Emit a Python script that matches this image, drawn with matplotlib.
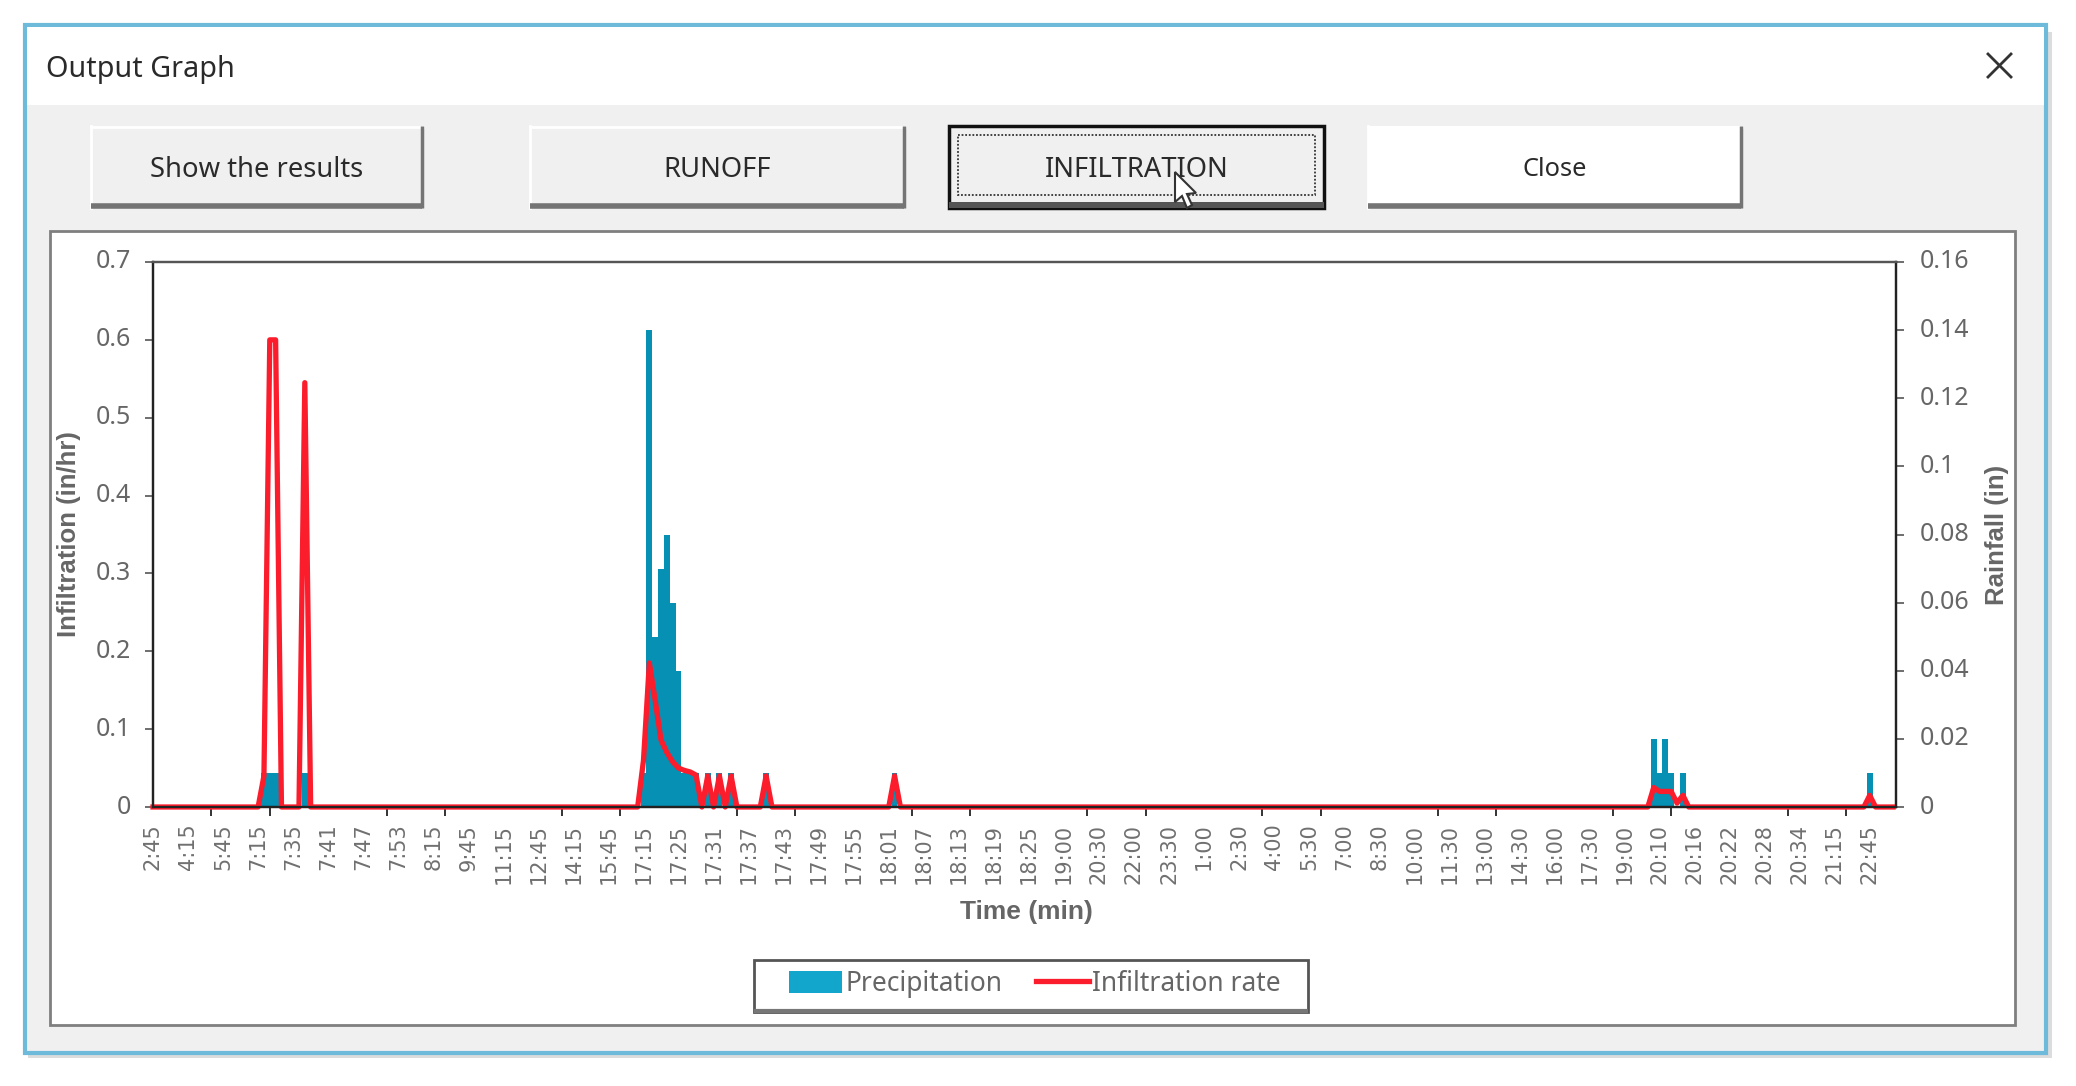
import numpy as np
import matplotlib
matplotlib.use("Agg")
import matplotlib.pyplot as plt
from matplotlib.patches import Rectangle, Polygon
from matplotlib.lines import Line2D
from matplotlib.transforms import ScaledTranslation

plt.rcParams["font.family"] = ["Noto Sans", "DejaVu Sans"]

W, H = 2076, 1086

# one category per time step, a label every 6, a tick mark every 10
n_steps = 299
time_labels = [
    "2:45", "4:15", "5:45", "7:15", "7:35", "7:41", "7:47", "7:53", "8:15", "9:45",
    "11:15", "12:45", "14:15", "15:45", "17:15", "17:25", "17:31", "17:37", "17:43", "17:49",
    "17:55", "18:01", "18:07", "18:13", "18:19", "18:25", "19:00", "20:30", "22:00", "23:30",
    "1:00", "2:30", "4:00", "5:30", "7:00", "8:30", "10:00", "11:30", "13:00", "14:30",
    "16:00", "17:30", "19:00", "20:10", "20:16", "20:22", "20:28", "20:34", "21:15", "22:45",
]

# rainfall (in), only the non zero steps
rain_steps = [19, 20, 21, 26, 84, 85, 86, 87, 88, 89, 90, 91, 92, 93, 95, 97, 99, 105, 127,
              257, 258, 259, 260, 262, 294]
rain_values = [0.01, 0.01, 0.01, 0.01, 0.01, 0.14, 0.05, 0.07, 0.08, 0.06, 0.04, 0.01, 0.01, 0.01,
               0.01, 0.01, 0.01, 0.01, 0.01, 0.02, 0.01, 0.02, 0.01, 0.01, 0.01]

# infiltration rate (in/hr), only the non zero steps
infil_steps = [19, 20, 21, 26, 84, 85, 86, 87, 88, 89, 90, 91, 92, 93, 95, 97, 99, 105, 127,
               257, 258, 259, 260, 261, 262, 294]
infil_values = [0.04, 0.6, 0.6, 0.545, 0.06, 0.185, 0.137, 0.086, 0.07, 0.058, 0.05, 0.047, 0.045, 0.041,
                0.04, 0.04, 0.04, 0.04, 0.04, 0.025, 0.02, 0.02, 0.02, 0.005, 0.015, 0.015]

left_ticks = [0, 0.1, 0.2, 0.3, 0.4, 0.5, 0.6, 0.7]
right_ticks = [0, 0.02, 0.04, 0.06, 0.08, 0.1, 0.12, 0.14, 0.16]
right_labels = ["0", "0.02", "0.04", "0.06", "0.08", "0.1", "0.12", "0.14", "0.16"]

GREY = "#666666"
BODY = "#f0f0f1"
RED = "#fb1c2c"


def add_button(bg, x0, x1, label, face=BODY, size=19.7, focus=False):
    y0, y1 = 126, 208
    if focus:
        bg.add_patch(Rectangle((x0, y0), x1 - x0, y1 - y0, fc=face, ec="#111111", lw=2.5))
        bg.add_patch(Rectangle((x0, y1 - 6), x1 - x0, 6, fc="#555555", ec="none"))
        bg.add_patch(Rectangle((x0 + 9, y0 + 9), x1 - x0 - 18, y1 - y0 - 22, fc="none", ec="#333333",
                               lw=1.3, ls=(0, (1, 1))))
    else:
        bg.add_patch(Rectangle((x0, y0), x1 - x0, y1 - y0, fc=face, ec="none"))
        bg.plot([x0, x1], [y0 + 1, y0 + 1], color="white", lw=2)
        bg.plot([x0, x0], [y0, y1], color="white", lw=2)
        bg.plot([x0, x1 - 1], [y1 - 2, y1 - 2], color="#747474", lw=4, solid_capstyle="butt")
        bg.plot([x1 - 1, x1 - 1], [y0, y1], color="#747474", lw=2.5, solid_capstyle="butt")
    bg.text((x0 + x1) / 2, 170, label, ha="center", va="center", fontsize=size, color="#2a2a2a")


def main():
    fig = plt.figure(figsize=(W / 100, H / 100), dpi=100, facecolor="white")

    # window frame, drawn in pixel coordinates
    bg = fig.add_axes([0, 0, 1, 1])
    bg.set_xlim(0, W)
    bg.set_ylim(H, 0)
    bg.axis("off")
    bg.add_patch(Rectangle((28, 32), 2024, 1026, fc="#dcdcdc", ec="none"))
    bg.add_patch(Rectangle((25, 25), 2021, 1028, fc=BODY, ec="#6dbada", lw=3))
    bg.add_patch(Rectangle((27, 27), 2017, 78, fc="white", ec="none"))
    bg.text(46, 70, "Output Graph", ha="left", va="center", fontsize=20.7, color="#2a2a2a")
    bg.plot([1988, 2011], [54, 77], color="#333333", lw=2)
    bg.plot([1988, 2011], [77, 54], color="#333333", lw=2)

    add_button(bg, 91, 423, "Show the results")
    add_button(bg, 530, 905, "RUNOFF")
    add_button(bg, 949, 1324, "INFILTRATION", focus=True)
    add_button(bg, 1368, 1742, "Close", face="white", size=18.3)

    # chart panel
    bg.add_patch(Rectangle((50, 231), 1965, 794, fc="white", ec="#7f7f7f", lw=2))

    # mouse cursor over the button
    cursor = [(1175, 172), (1175, 202), (1182, 196), (1187, 208), (1192, 205), (1187, 194), (1196, 193)]
    bg.add_patch(Polygon(cursor, closed=True, fc="white", ec="#333333", lw=1.5, zorder=6))

    # legend box, the bottom edge is heavier
    bg.add_patch(Rectangle((754, 960), 554, 52, fc="white", ec="#555555", lw=2, zorder=5))
    bg.plot([754, 1308], [1011, 1011], color="#777777", lw=3, zorder=5, solid_capstyle="butt")

    # plot area
    left, right, top, bottom = 153, 1896, 262, 807
    rect = [left / W, 1 - bottom / H, (right - left) / W, (bottom - top) / H]
    ax = fig.add_axes(rect)
    ax2 = ax.twinx()
    ax.set_zorder(ax2.get_zorder() + 1)
    ax.patch.set_visible(False)
    ax2.patch.set_facecolor("white")

    steps = np.arange(n_steps)
    rain = np.zeros(n_steps)
    rain[rain_steps] = rain_values
    infil = np.zeros(n_steps)
    infil[infil_steps] = infil_values

    bars = ax2.bar(steps, rain, width=1.0, color="#0590b4", edgecolor="none", label="Precipitation")
    ax.plot(steps, infil, color=RED, lw=3.8, solid_joinstyle="round", label="Infiltration rate", clip_on=False)

    ax.set_xlim(0, 298.5)
    ax.set_ylim(0, 0.7)
    ax2.set_ylim(0, 0.16)

    label_pos = np.arange(len(time_labels)) * 6
    ax.set_xticks(label_pos)
    ax.set_xticklabels(time_labels, rotation=90, family="DejaVu Sans", fontsize=15, color="#707070")
    ax.tick_params(axis="x", which="major", length=0, pad=12)
    ax.set_xticks(np.arange(0, n_steps, 10), minor=True)
    ax.tick_params(axis="x", which="minor", length=6.5, width=1.4, color="#333333")

    ax.set_yticks(left_ticks)
    ax.set_yticklabels([f"{v:g}" for v in left_ticks])
    ax.tick_params(axis="y", length=6, width=1.2, color="#555555", labelsize=18, labelcolor=GREY, pad=10)
    ax2.set_yticks(right_ticks)
    ax2.set_yticklabels(right_labels, ha="left")
    ax2.tick_params(axis="y", length=6, width=1.2, color="#555555", labelsize=18, labelcolor=GREY, pad=11)

    # tick labels sit a little above their tick in the reference
    shift = ScaledTranslation(0, 3 / 100, fig.dpi_scale_trans)
    for lab in ax.get_yticklabels() + ax2.get_yticklabels():
        lab.set_transform(lab.get_transform() + shift)

    for a in (ax, ax2):
        for name, spine in a.spines.items():
            spine.set_color("#222222" if name != "top" else "#555555")
            spine.set_linewidth(1.6)

    fig.text(1026 / W, 1 - 912 / H, "Time (min)", ha="center", va="center", family="Liberation Sans",
             fontsize=19, fontweight="bold", color=GREY)
    fig.text(69 / W, 1 - 534 / H, "Infiltration (in/hr)", rotation=90, ha="center", va="center",
             family="Liberation Sans", fontsize=18.5, fontweight="bold", color=GREY)
    fig.text(1997 / W, 1 - 535 / H, "Rainfall (in)", rotation=90, ha="center", va="center",
             family="Liberation Sans", fontsize=18.5, fontweight="bold", color=GREY)

    handles = [bars, Line2D([0], [0], color=RED, lw=3.8)]
    leg = fig.legend(handles, ["Precipitation", "Infiltration rate"], ncol=2, loc="center",
                     bbox_to_anchor=(1035 / W, 1 - 984 / H), fontsize=19, frameon=False,
                     handlelength=2.0, handleheight=0.9, handletextpad=0.12, columnspacing=1.3,
                     labelcolor=GREY)
    leg.set_zorder(8)
    leg.legend_handles[0].set_facecolor("#12a6cd")

    fig.savefig("out.png", dpi=100)
    plt.close(fig)


if __name__ == "__main__":
    main()
